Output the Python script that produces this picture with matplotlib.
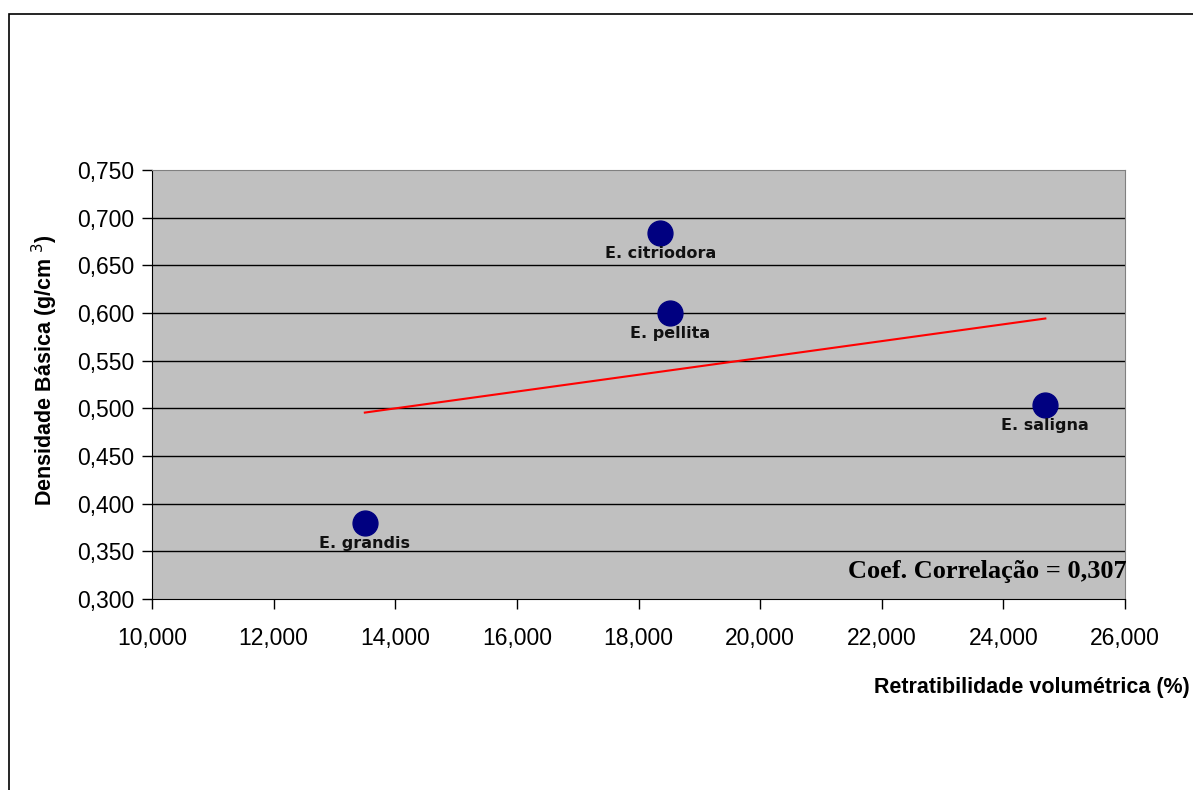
import numpy as np
import matplotlib.pyplot as plt
from matplotlib.patches import Rectangle
from matplotlib.ticker import FuncFormatter

plt.rcParams['font.family'] = ['Liberation Sans', 'DejaVu Sans']

# species data
especies = ['E. grandis', 'E. citriodora', 'E. pellita', 'E. saligna']
retratibilidade = [13.50, 18.36, 18.52, 24.69]   # x, in thousands as shown (10,000 = 10)
densidade = [0.380, 0.684, 0.600, 0.504]
coef_texto = 'Coef. Correlação = 0,307'

x_ticks = [10, 12, 14, 16, 18, 20, 22, 24, 26]
y_ticks = [0.30, 0.35, 0.40, 0.45, 0.50, 0.55, 0.60, 0.65, 0.70, 0.75]

fig = plt.figure(figsize=(11.93, 7.90), dpi=100)
# outer chart border (only top and left visible in the reference)
fig.patches.append(Rectangle((9 / 1193, -0.05), 1.2, 1 - 14 / 790 + 0.05,
                             transform=fig.transFigure, fill=False,
                             edgecolor='black', linewidth=1.2))

ax = fig.add_axes([152 / 1193, 1 - 599 / 790, 973 / 1193, 429 / 790])
ax.set_facecolor('#c0c0c0')

for yv in y_ticks[1:-1]:
    ax.axhline(yv, color='black', linewidth=1, zorder=1)

# linear trend line over the data range
coef = np.polyfit(retratibilidade, densidade, 1)
xs = np.array([min(retratibilidade), max(retratibilidade)])
ax.plot(xs, np.polyval(coef, xs), color='red', linewidth=1.5, zorder=2)

ax.scatter(retratibilidade, densidade, s=320, color='#000080', zorder=3)
for nome, xv, yv in zip(especies, retratibilidade, densidade):
    ax.annotate(nome, (xv, yv), xytext=(0, -9.5), textcoords='offset points',
                ha='center', va='top', fontsize=11.5, fontweight='bold',
                family='DejaVu Sans', color='#111111', zorder=4)

ax.text(1.002, 0.065, coef_texto,
        transform=ax.transAxes, ha='right', va='center',
        family='Liberation Serif', fontsize=19, fontweight='bold', zorder=5)

ax.set_xlim(10, 26)
ax.set_ylim(0.30, 0.75)
ax.set_xticks(x_ticks)
ax.set_yticks(y_ticks)
ax.xaxis.set_major_formatter(FuncFormatter(lambda v, p: f'{v:.3f}'.replace('.', ',')))
ax.yaxis.set_major_formatter(FuncFormatter(lambda v, p: f'{v:.3f}'.replace('.', ',')))
ax.tick_params(axis='both', direction='out', length=7, width=1, labelsize=16.5,
               pad=6)
ax.tick_params(axis='x', pad=13)

ax.spines['left'].set_color('black')
ax.spines['bottom'].set_color('black')
ax.spines['top'].set_color('#808080')
ax.spines['right'].set_color('#808080')

fig.text(45 / 1193, 1 - 370 / 790, 'Densidade Básica (g/cm $^{3}$)', rotation=90,
         ha='center', va='center', fontsize=15.5, fontweight='bold')
fig.text(1190 / 1193, 1 - 687 / 790, 'Retratibilidade volumétrica (%)',
         ha='right', va='center', fontsize=15.5, fontweight='bold')

fig.savefig('out.png', dpi=100)
